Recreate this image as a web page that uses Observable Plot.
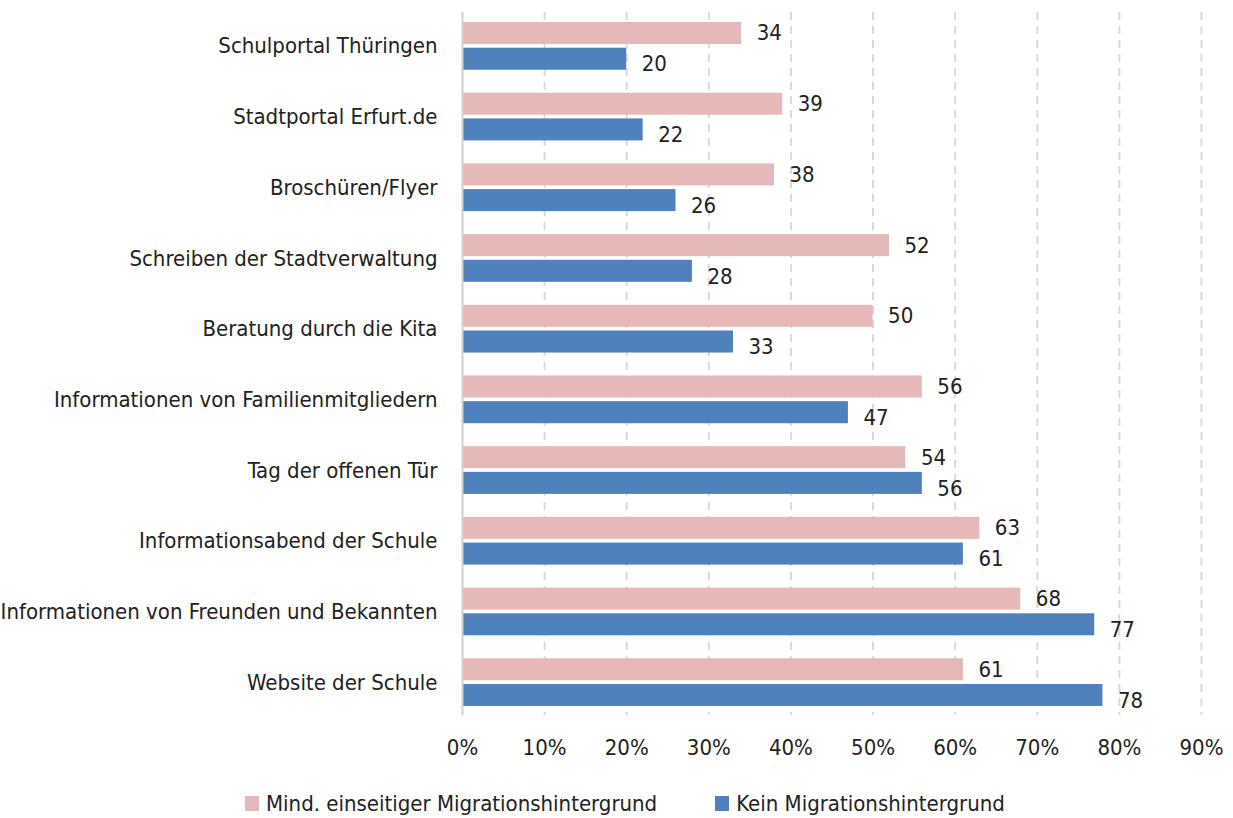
<!DOCTYPE html>
<html>
<head>
<meta charset="utf-8">
<script src="https://cdn.jsdelivr.net/npm/d3@7"></script>
<script src="https://cdn.jsdelivr.net/npm/@observablehq/plot@0.6"></script>
<style>
  html, body { margin: 0; padding: 0; background: #fff; }
  body { width: 1233px; height: 818px; overflow: hidden; font-family: "DejaVu Sans Condensed", "Liberation Sans Narrow", sans-serif; color: #222; }
  #legend { display: flex; gap: 58px; margin-left: 245px; margin-top: 16px; font-size: 22px; align-items: center; }
  .item { display: flex; align-items: center; gap: 7px; }
  .sw { width: 14px; height: 15px; display: inline-block; }
</style>
</head>
<body>
<div id="chart"></div>
<div id="legend"></div>
<script>
const categories = [
  "Schulportal Thüringen",
  "Stadtportal Erfurt.de",
  "Broschüren/Flyer",
  "Schreiben der Stadtverwaltung",
  "Beratung durch die Kita",
  "Informationen von Familienmitgliedern",
  "Tag der offenen Tür",
  "Informationsabend der Schule",
  "Informationen von Freunden und Bekannten",
  "Website der Schule"
];
const seriesNames = ["Mind. einseitiger Migrationshintergrund", "Kein Migrationshintergrund"];
const seriesColors = ["#E6B8B7", "#4F81BD"];
const migrationValues = [34, 39, 38, 52, 50, 56, 54, 63, 68, 61];
const noMigrationValues = [20, 22, 26, 28, 33, 47, 56, 61, 77, 78];
const xTicks = [0, 10, 20, 30, 40, 50, 60, 70, 80, 90];

const pink = categories.map((c, i) => ({cat: c, v: migrationValues[i]}));
const blue = categories.map((c, i) => ({cat: c, v: noMigrationValues[i]}));

const font = "'DejaVu Sans Condensed', 'Liberation Sans Narrow', sans-serif";

const chart = Plot.plot({
  width: 1233,
  height: 775,
  marginTop: 12,
  marginBottom: 60,
  marginLeft: 462,
  marginRight: 32,
  style: {fontFamily: font, fontSize: "22px", color: "#222", background: "#fff"},
  x: {domain: [0, 90], ticks: xTicks, tickFormat: d => d + "%", tickSize: 0, tickPadding: 24, label: null},
  y: {domain: categories, range: [22, 706], round: false, paddingInner: 0.325, paddingOuter: 0, tickSize: 0, tickPadding: 25, label: null},
  marks: [
    Plot.ruleX(xTicks.slice(1), {stroke: "#d9d9d9", strokeWidth: 2, strokeDasharray: "8,6"}),
    Plot.barX(pink, {y: "cat", x: "v", fill: seriesColors[0], insetBottom: 25.7}),
    Plot.barX(blue, {y: "cat", x: "v", fill: seriesColors[1], insetTop: 25.7}),
    Plot.ruleX([0], {stroke: "#d0d0d0", strokeWidth: 2}),
    Plot.text(pink, {y: "cat", x: "v", text: d => String(d.v), dx: 15, dy: -13, textAnchor: "start", fontSize: 22, fill: "#222"}),
    Plot.text(blue, {y: "cat", x: "v", text: d => String(d.v), dx: 15, dy: 18, textAnchor: "start", fontSize: 22, fill: "#222"})
  ]
});
document.getElementById("chart").appendChild(chart);

const legend = document.getElementById("legend");
seriesNames.forEach((name, i) => {
  const item = document.createElement("div");
  item.className = "item";
  const sw = document.createElement("span");
  sw.className = "sw";
  sw.style.background = seriesColors[i];
  const t = document.createElement("span");
  t.textContent = name;
  item.appendChild(sw);
  item.appendChild(t);
  legend.appendChild(item);
});
</script>
</body>
</html>
